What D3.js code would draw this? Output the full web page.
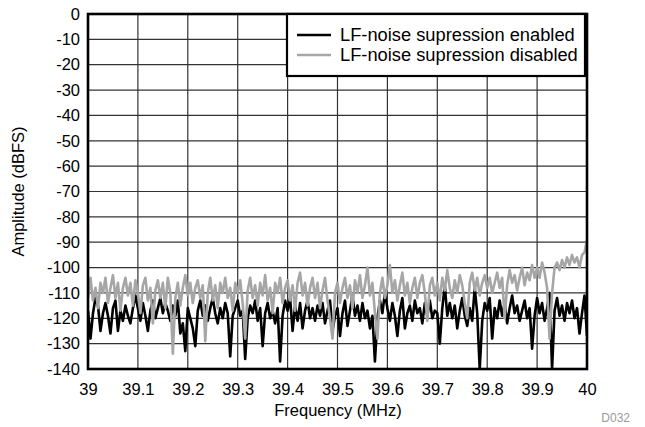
<!DOCTYPE html>
<html><head><meta charset="utf-8">
<script src="https://cdn.jsdelivr.net/npm/d3@7"></script>
<style>body{margin:0;background:#fff}svg text{font-family:"Liberation Sans",Arial,sans-serif}</style>
</head><body><svg id="c" width="645" height="427"></svg>
<script>
const xStart = 39, xStep = 0.005;
const yTicks = [0,-10,-20,-30,-40,-50,-60,-70,-80,-90,-100,-110,-120,-130,-140];
const xTicks = [39,39.1,39.2,39.3,39.4,39.5,39.6,39.7,39.8,39.9,40];
const seriesNames = ["LF-noise supression enabled","LF-noise supression disabled"];
const enabled = [
-117,-128,-118,-112,-115,-125,-118,-114,-119,-126,-116,-113,-125,-117,-121,-115,-119,-122,-116,-111,
-116,-121,-114,-119,-125,-117,-113,-120,-116,-112,-118,-114,-117,-121,-115,-119,-113,-126,-122,-133,
-116,-120,-124,-131,-117,-113,-119,-115,-121,-116,-112,-118,-122,-116,-120,-114,-118,-135,-119,-116,
-113,-119,-117,-136,-120,-115,-118,-113,-121,-116,-131,-118,-114,-120,-117,-122,-116,-137,-119,-113,
-117,-112,-125,-115,-121,-114,-124,-117,-113,-120,-116,-121,-115,-119,-114,-122,-117,-113,-125,-119,
-116,-127,-118,-113,-123,-117,-111,-119,-115,-121,-114,-120,-117,-124,-119,-137,-120,-113,-118,-110,
-116,-121,-114,-119,-127,-117,-112,-124,-118,-115,-121,-113,-118,-116,-122,-114,-119,-113,-120,-117,
-118,-130,-116,-107,-119,-114,-120,-115,-124,-117,-112,-119,-123,-116,-121,-108,-118,-140,-121,-114,
-117,-112,-128,-116,-120,-113,-119,-114,-122,-116,-111,-118,-115,-121,-117,-113,-120,-116,-132,-119,
-112,-118,-114,-121,-116,-110,-140,-117,-112,-119,-115,-121,-114,-118,-113,-120,-116,-126,-118,-111,-127
];
const disabled = [
-112,-104,-113,-108,-116,-106,-110,-104,-114,-108,-103,-112,-106,-117,-108,-104,-111,-106,-115,-105,
-110,-118,-107,-104,-113,-108,-122,-109,-105,-112,-106,-116,-104,-110,-134,-112,-106,-115,-108,-103,
-111,-106,-114,-108,-105,-112,-107,-129,-110,-104,-113,-107,-116,-106,-110,-104,-112,-108,-117,-106,
-110,-105,-114,-128,-109,-104,-112,-107,-115,-106,-111,-103,-113,-108,-118,-106,-110,-104,-114,-108,
-105,-113,-107,-117,-106,-102,-111,-106,-115,-108,-104,-112,-106,-116,-109,-104,-113,-120,-128,-110,
-106,-114,-108,-104,-112,-107,-116,-105,-110,-103,-112,-107,-100,-111,-106,-118,-128,-110,-104,-112,
-107,-99,-110,-105,-113,-107,-102,-111,-106,-114,-108,-104,-112,-106,-103,-110,-121,-107,-104,-111,
-106,-113,-104,-109,-101,-108,-112,-105,-110,-103,-107,-114,-120,-106,-102,-109,-104,-111,-106,-103,
-108,-104,-110,-106,-102,-108,-104,-120,-107,-101,-106,-103,-109,-104,-100,-107,-102,-105,-99,-104,
-100,-104,-98,-102,-108,-128,-110,-100,-98,-101,-97,-100,-96,-99,-95,-98,-96,-100,-95,-94,-89
];
const colors = ["#000000","#a6a6a6"];

const svg = d3.select("#c");
const L=88, R=587, T=14, B=369;
const x = d3.scaleLinear().domain([39,40]).range([L,R]);
const y = d3.scaleLinear().domain([-140,0]).range([B,T]);
const F = "Liberation Sans, Arial, sans-serif";

// grid
svg.append("g").selectAll("line").data(yTicks).join("line")
  .attr("x1",L).attr("x2",R).attr("y1",d=>y(d)).attr("y2",d=>y(d))
  .attr("stroke","#333").attr("stroke-width",1.2);
svg.append("g").selectAll("line").data(xTicks).join("line")
  .attr("y1",T).attr("y2",B).attr("x1",d=>x(d)).attr("x2",d=>x(d))
  .attr("stroke","#333").attr("stroke-width",1.2);

const line = d3.line().x((d,i)=>x(xStart+i*xStep)).y(d=>y(d));
svg.append("clipPath").attr("id","cp").append("rect").attr("x",L).attr("y",T).attr("width",R-L).attr("height",B-T);
[enabled, disabled].forEach((s,k)=>{
  svg.append("path").datum(s).attr("d",line).attr("fill","none")
    .attr("stroke",colors[k]).attr("stroke-width",2.6).attr("stroke-linejoin","round")
    .attr("clip-path","url(#cp)");
});

// frame
svg.append("rect").attr("x",L).attr("y",T).attr("width",R-L).attr("height",B-T)
  .attr("fill","none").attr("stroke","#000").attr("stroke-width",2.6);

// axes labels
const yAxis = d3.axisLeft(y).tickValues(yTicks).tickSize(0).tickPadding(8).tickFormat(d=>d);
const gy = svg.append("g").attr("transform",`translate(${L},0)`).call(yAxis);
gy.select(".domain").remove();
gy.selectAll("text").attr("font-size",16.5).attr("fill","#000").attr("font-family",F);
const xAxis = d3.axisBottom(x).tickValues(xTicks).tickSize(0).tickPadding(14).tickFormat(d=>d3.format("~g")(d));
const gx = svg.append("g").attr("transform",`translate(0,${B})`).call(xAxis);
gx.select(".domain").remove();
gx.selectAll("text").attr("font-size",16.5).attr("fill","#000").attr("font-family",F);

svg.append("text").attr("x",338).attr("y",416).attr("text-anchor","middle")
  .attr("font-size",16.5).text("Frequency (MHz)");
svg.append("text").attr("transform",`translate(24,${(T+B)/2}) rotate(-90)`).attr("text-anchor","middle")
  .attr("font-size",16.5).text("Amplitude (dBFS)");
svg.append("text").attr("x",630).attr("y",422).attr("text-anchor","end")
  .attr("font-size",12).attr("fill","#999").text("D032");

// legend
const lg = svg.append("g");
lg.append("rect").attr("x",287).attr("y",T).attr("width",298).attr("height",62)
  .attr("fill","#fff").attr("stroke","#000").attr("stroke-width",2.2);
seriesNames.forEach((n,k)=>{
  const yy = 35 + k*20;
  lg.append("line").attr("x1",297).attr("x2",331).attr("y1",yy).attr("y2",yy)
    .attr("stroke",colors[k]).attr("stroke-width",2.6);
  lg.append("text").attr("x",340).attr("y",yy+6).attr("font-size",18.3).text(n);
});
</script></body></html>
